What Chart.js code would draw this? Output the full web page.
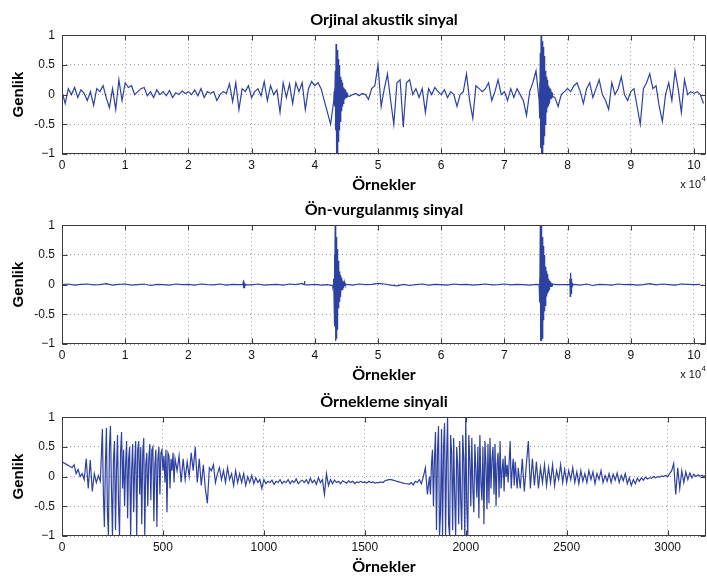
<!DOCTYPE html>
<html lang="tr">
<head>
<meta charset="utf-8">
<title>Sinyaller</title>
<script src="https://cdn.jsdelivr.net/npm/chart.js@4.4.1/dist/chart.umd.min.js"></script>
<style>
    html, body { margin: 0; padding: 0; background: #fff; }
    #sayfa { position: relative; width: 707px; height: 579px; overflow: hidden; }
    .grafik { position: absolute; left: 0; width: 707px; height: 197px; }
</style>
</head>
<body>
<div id="sayfa">
    <div class="grafik" style="top:0px"><canvas id="g_orjinal"></canvas></div>
    <div class="grafik" style="top:190px"><canvas id="g_onvurgu"></canvas></div>
    <div class="grafik" style="top:382px"><canvas id="g_ornekleme"></canvas></div>
</div>
<script>
// yazilar
var basliklar = ['Orjinal akustik sinyal', 'Ön-vurgulanmış sinyal', 'Örnekleme sinyali'];
var eksenX = 'Örnekler';
var eksenY = 'Genlik';

// eksen tikleri
var genlikTikleri = [-1, -0.5, 0, 0.5, 1];
var ornekTikleri = [0, 10000, 20000, 30000, 40000, 50000, 60000, 70000, 80000, 90000, 100000];
var ornekTikleri3 = [0, 500, 1000, 1500, 2000, 2500, 3000];
var ornekMax = 101900;
var ornekMax3 = 3190;

// orjinal sinyal (her 500 ornekte bir deger)
var orjinalAdim = 500;
var orjinal = [
    0.05,-0.15,0.1,0.0,0.12,-0.05,0.08,0.02,-0.1,0.05,-0.18,0.1,0.05,0.15,-0.05,-0.22,0.1,-0.25,0.25,-0.1,
    0.2,0.12,0.15,0.0,0.05,0.1,0.12,-0.02,0.05,-0.05,0.08,0.0,0.05,-0.02,0.07,-0.05,0.03,0.0,0.06,0.02,
    0.05,0.0,0.08,-0.02,0.1,-0.05,0.05,0.02,0.05,-0.1,0.0,0.05,0.02,0.18,-0.12,0.2,-0.25,0.1,0.05,0.15,
    -0.05,0.05,0.1,-0.02,0.22,-0.1,0.15,0.0,0.08,-0.3,0.2,-0.05,0.18,-0.15,0.2,0.05,0.2,-0.25,0.1,0.22,
    0.15,0.2,0.1,-0.1,-0.3,-0.5,0,0,0.05,0,0.02,-0.03,0,0.02,-0.02,0.02,0,-0.08,0.1,0.15,
    0.5,-0.2,0.1,0.35,-0.1,-0.5,0.2,0.25,-0.55,0.2,0.25,0.0,0.1,-0.05,0.1,-0.3,0.1,0.0,0.12,0.05,
    0.0,0.08,-0.05,0.05,0.0,-0.2,0.0,0.05,0.35,-0.1,-0.4,0.15,0.1,0.05,0.1,0.2,-0.1,0.05,0.25,0.0,
    0.05,-0.1,0.1,-0.05,0.1,0.0,-0.1,-0.35,0.05,0.2,0.4,-0.1,0,0,0,0,-0.05,-0.2,0.0,0.05,
    0.1,0.05,0.15,0.2,0.05,-0.15,0.1,0.2,-0.05,0.1,0.25,0.0,-0.1,-0.25,0.2,0.0,0.1,0.3,0.0,-0.1,
    0.05,0.1,-0.2,-0.5,0.1,0.2,0.35,0.1,0.15,-0.2,-0.45,0.0,0.2,-0.1,0.4,0.1,-0.3,0.25,0.0,0.05,
    0.02,0.05,0.0,-0.15
];
// orjinal sinyaldeki patlamalar (her 60 ornekte bir deger)
var orjinalPatlamaAdim = 60;
var orjinalPatlamaBas = [43000, 75500];
var orjinalPatlamalar = [
    [-0.1,0.05,0.1,-0.2,0.4,-0.6,0.85,-1.0,0.8,-1.0,0.75,-0.95,0.6,-0.8,0.5,-0.6,0.4,-0.45,0.3,-0.35,
     0.25,-0.28,0.2,-0.2,0.16,-0.15,0.12,-0.12,0.1,-0.08,0.08,-0.06,0.06,-0.05,0.04,-0.03,0.03,-0.02],
    [-0.1,0.2,-0.4,0.7,-0.9,1.0,-1.0,1.0,-1.0,0.9,-1.0,0.8,-0.85,0.65,-0.7,0.5,-0.5,0.4,-0.4,0.3,
     -0.3,0.25,-0.22,0.2,-0.18,0.15,-0.14,0.12,-0.1,0.1,-0.08,0.07,-0.06,0.05,-0.04,0.03,-0.03]
];

// on-vurgulanmis sinyal (her 1000 ornekte bir deger)
var onVurguAdim = 1000;
var onVurgu = [
    0.0,0.01,-0.01,0.005,0.01,-0.005,0.0,0.015,-0.01,0.005,
    0.01,-0.01,0.0,0.01,-0.015,0.005,0.0,-0.01,0.01,0.0,
    0.005,-0.01,0.01,0.0,-0.005,0.01,-0.01,0.005,0.0,0.01,
    -0.005,0.01,-0.01,0.0,0.005,-0.01,0.01,0.0,0.02,-0.005,
    0.005,-0.01,0.0,-0.02,0.0,0.005,-0.01,0.01,0.0,0.005,
    0.02,0.01,-0.01,-0.02,0.005,-0.015,0.0,0.01,-0.01,0.005,
    0.0,-0.01,0.01,0.0,0.005,-0.01,0.0,0.01,-0.005,0.0,
    0.01,-0.005,0.005,0.0,-0.01,0.005,0.0,0.0,0.0,0.0,
    0.0,0.005,-0.01,0.01,-0.015,0.005,0.0,-0.01,0.01,0.0,
    0.005,-0.01,0.0,0.015,-0.005,0.01,0.0,-0.01,0.01,0.005,
    0.0,0.005
];
var onVurguPatlamaAdim = 60;
var onVurguPatlamaBas = [28600, 38300, 42800, 75500, 80300];
var onVurguPatlamalar = [
    [0.0,0.03,-0.06,0.07,-0.05,0.03,-0.01,0.0],
    [0.0,0.06,0.0],
    [-0.02,-0.03,0.0,0.1,-0.2,0.5,-0.7,1.0,-0.95,0.95,-0.9,0.8,-0.75,0.6,-0.55,0.4,-0.4,0.3,-0.28,0.22,
     -0.2,0.16,-0.15,0.12,-0.1,0.09,-0.08,0.07,-0.05,0.05,-0.04,0.03,-0.02,0.02,-0.01,0.01],
    [0.0,0.1,-0.3,1.0,-0.95,1.0,-0.95,0.9,-0.9,0.8,-0.75,0.65,-0.6,0.5,-0.45,0.4,-0.35,0.3,-0.27,0.23,
     -0.2,0.18,-0.15,0.13,-0.11,0.1,-0.08,0.07,-0.06,0.05,-0.04,0.04,-0.03,0.02,-0.02,0.01],
    [0.0,0.1,-0.2,0.2,-0.15,0.1,-0.05,0.02,0.0]
];

// ornekleme sinyali (her 10 ornekte bir deger)
var orneklemeAdim = 10;
var ornekleme = [
    0.25,0.23,0.21,0.19,0.17,0.15,0.2,0.05,0.12,0.0,
    0.05,-0.05,0.3,-0.2,0.28,-0.25,0.05,-0.1,0.02,-0.08,
    0.8,-0.85,0.82,-1.0,0.85,-1.0,0.6,-0.9,0.7,-1.0,
    0.45,-0.5,0.6,-0.7,0.5,-1.0,0.55,-0.6,0.6,-1.0,
    0.6,-0.3,0.5,-0.8,0.65,-1.0,0.4,-0.5,0.55,-0.4,
    0.5,-0.75,0.45,-0.85,0.5,-0.3,0.45,0.1,0.35,-0.1,
    0.3,-0.05,0.25,0.0,0.4,0.1,0.5,-0.1,0.3,-0.15,
    0.2,-0.2,-0.45,0.15,0.1,0.2,-0.1,0.05,0.15,-0.05,
    0.1,-0.1,0.15,-0.05,0.05,-0.15,0.1,-0.1,0.05,-0.1,
    0.05,-0.15,0.0,-0.1,0.02,-0.12,-0.02,-0.1,-0.05,-0.2,
    -0.05,-0.12,-0.08,-0.1,-0.06,-0.13,-0.08,-0.1,-0.05,-0.12,
    -0.08,-0.1,-0.05,-0.12,-0.07,-0.1,-0.04,-0.12,-0.08,-0.06,
    -0.1,-0.05,-0.12,-0.03,-0.1,-0.06,-0.13,-0.02,-0.1,-0.05,
    -0.3,0.05,-0.15,-0.05,-0.12,-0.06,-0.1,-0.08,-0.12,-0.07,
    -0.09,-0.11,-0.07,-0.1,-0.08,-0.12,-0.09,-0.1,-0.08,-0.1,
    -0.09,-0.11,-0.08,-0.1,-0.09,-0.11,-0.1,-0.1,-0.09,-0.1,
    -0.07,-0.06,-0.05,-0.05,-0.06,-0.07,-0.08,-0.09,-0.1,-0.11,
    -0.12,-0.12,-0.13,-0.1,-0.14,-0.08,-0.1,-0.05,-0.12,0.0,
    0.15,-0.3,0.45,-0.5,0.75,-0.9,0.85,-1.0,0.8,-1.0,
    1.0,-1.0,0.7,-0.9,0.65,-1.0,0.5,-0.8,0.6,-0.9,
    1.0,-1.0,0.7,-0.5,0.65,-0.6,0.55,-0.35,0.5,-0.7,
    0.7,-0.4,0.5,-0.8,0.6,-0.55,0.55,-0.45,0.65,-0.2,
    0.5,-0.3,0.55,-0.5,0.4,-0.35,0.6,-0.2,0.3,-0.25,
    0.2,0.6,-0.2,0.3,-0.15,0.25,-0.2,0.15,-0.1,0.2,
    -0.15,0.15,-0.1,0.2,-0.15,0.1,-0.05,0.2,-0.1,0.12,
    -0.1,0.1,-0.05,0.15,-0.1,0.08,-0.12,0.1,-0.08,0.05,
    -0.1,0.1,-0.05,0.08,-0.12,0.05,-0.05,0.1,-0.1,0.02,
    -0.08,0.05,-0.1,0.04,-0.06,0.06,-0.1,0.02,-0.07,0.05,
    -0.12,-0.02,-0.15,-0.05,-0.12,-0.03,-0.08,-0.02,-0.06,-0.01,
    -0.04,-0.02,-0.03,0.0,-0.02,0.0,-0.01,0.01,0.0,0.02,
    0.0,0.05,0.1,0.22,-0.3,0.15,-0.2,0.1,-0.1,0.08,
    -0.05,0.06,-0.02,0.04,0.0,0.03,0.01,0.02,0.0,0.03
];
// yogun bolgeler (her 5 ornekte bir deger)
var orneklemeYogunAdim = 5;
var orneklemeYogunBas = [200, 1820];
var orneklemeYogun = [
    [0.8,-0.3,-0.85,0.2,0.82,-0.6,-1.0,0.5,0.85,-0.2,-1.0,0.3,0.6,-0.9,0.1,0.7,-0.5,-1.0,0.4,0.75,
     -0.2,0.45,-0.5,0.2,0.6,-0.7,0.3,0.5,-1.0,0.1,0.55,-0.6,0.2,0.6,-1.0,0.45,0.6,-0.3,0.5,-0.8,
     0.4,0.65,-1.0,0.2,0.4,-0.5,0.3,0.55,-0.4,0.45,0.5,-0.75,0.2,0.45,-0.85,0.3,0.5,-0.3,0.4,0.45,
     0.1,0.35,-0.1,0.45,-0.6,0.4,0.35,-0.2,0.3,0.1,0.4,-0.1,0.3],
    [0.0,-0.3,0.2,0.45,-0.5,0.3,0.75,-0.9,0.4,0.85,-1.0,-0.6,0.8,-1.0,0.5,0.9,-1.0,0.3,1.0,-0.8,
     -1.0,0.7,0.4,-0.9,0.65,-0.3,-1.0,0.5,0.2,-0.8,0.6,-0.4,-0.9,0.7,0.3,-1.0,1.0,-0.5,-1.0,0.7,
     0.3,-0.5,0.65,-0.2,-0.6,0.55,0.1,-0.35,0.5,-0.7,0.7,-0.1,-0.4,0.5,-0.8,0.6,0.2,-0.55,0.55,-0.45,
     0.65,-0.2,0.3,0.5,-0.3,0.55,-0.5,0.2,0.4,-0.35,0.6,-0.2,0.1,0.3,-0.25,0.35,0.0,0.2,-0.1,0.25,
     0.6,-0.2,0.1,0.3,-0.15,0.25,0.0,-0.2,0.15]
];

// ana dizi + patlamalar -> {x, y} noktalari
function noktalar(ana, adim, basList, patAdim, patlamalar) {
    var araliklar = [];
    for (let i = 0; i < basList.length; i++) {
        araliklar.push([basList[i], basList[i] + (patlamalar[i].length - 1) * patAdim]);
    }
    var pts = [];
    for (let i = 0; i < ana.length; i++) {
        var x = i * adim;
        var icerde = araliklar.some(function (a) { return x >= a[0] && x <= a[1]; });
        if (!icerde) pts.push({x: x, y: ana[i]});
    }
    for (let i = 0; i < basList.length; i++) {
        for (let j = 0; j < patlamalar[i].length; j++) {
            pts.push({x: basList[i] + j * patAdim, y: patlamalar[i][j]});
        }
    }
    pts.sort(function (a, b) { return a.x - b.x; });
    return pts;
}

// kutu, ice dogru tik isaretleri ve "x 10^4"
var cerceve = {
    id: 'cerceve',
    afterDraw: function (chart, args, opts) {
        var c = chart.ctx, a = chart.chartArea;
        var l = Math.round(a.left) + 0.5, r = Math.round(a.right) - 0.5;
        var t = Math.round(a.top) + 0.5, b = Math.round(a.bottom) - 0.5;
        c.save();
        c.strokeStyle = '#3c3c3c';
        c.lineWidth = 1;
        c.strokeRect(l, t, r - l, b - t);
        c.beginPath();
        chart.scales.x.ticks.forEach(function (tk) {
            var px = Math.round(chart.scales.x.getPixelForValue(tk.value)) + 0.5;
            c.moveTo(px, b); c.lineTo(px, b - 5);
            c.moveTo(px, t); c.lineTo(px, t + 5);
        });
        chart.scales.y.ticks.forEach(function (tk) {
            var py = Math.round(chart.scales.y.getPixelForValue(tk.value)) + 0.5;
            c.moveTo(l, py); c.lineTo(l + 5, py);
            c.moveTo(r, py); c.lineTo(r - 5, py);
        });
        c.stroke();
        if (opts.us) {
            c.fillStyle = '#111';
            c.textBaseline = 'alphabetic';
            c.font = '11px "Liberation Sans"';
            c.textAlign = 'right';
            c.fillText('x 10', a.right - 5, a.bottom + 34);
            c.font = '8px "Liberation Sans"';
            c.textAlign = 'left';
            c.fillText('4', a.right - 4.5, a.bottom + 27);
        }
        c.restore();
    }
};

function grafik(id, baslik, veri, xMax, xTikleri, xBolen, us) {
    var ctx = document.getElementById(id).getContext('2d');
    return new Chart(ctx, {
        type: 'line',
        data: {
            datasets: [{
                data: veri,
                borderColor: '#2d41a0',
                borderWidth: 1.2,
                pointRadius: 0,
                tension: 0,
                fill: false
            }]
        },
        options: {
            responsive: true,
            maintainAspectRatio: false,
            animation: false,
            events: [],
            parsing: false,
            normalized: true,
            layout: { padding: { left: 0, right: 1, top: 0, bottom: 0 } },
            plugins: {
                legend: { display: false },
                tooltip: { enabled: false },
                title: {
                    display: true,
                    text: baslik,
                    fullSize: false,
                    color: '#000',
                    font: { family: 'Lato', size: 16, weight: 'bold', lineHeight: 1.2 },
                    padding: { top: 10, bottom: 6 }
                },
                cerceve: { us: us }
            },
            scales: {
                x: {
                    type: 'linear',
                    min: 0,
                    max: xMax,
                    afterBuildTicks: function (s) { s.ticks = xTikleri.map(function (v) { return {value: v}; }); },
                    afterFit: function (s) { s.height = 43; },
                    grid: { color: '#9a9a9a', lineWidth: 1, drawTicks: false },
                    border: { display: false, dash: [1, 3] },
                    ticks: {
                        autoSkip: false,
                        maxRotation: 0,
                        padding: 4,
                        color: '#111',
                        font: { family: 'Liberation Sans', size: 12 },
                        callback: function (v) { return String(v / xBolen); }
                    },
                    title: {
                        display: true,
                        text: eksenX,
                        color: '#000',
                        font: { family: 'Lato', size: 16, weight: 'bold', lineHeight: 1.2 },
                        padding: { top: 0, bottom: 3 }
                    }
                },
                y: {
                    min: -1,
                    max: 1,
                    afterBuildTicks: function (s) { s.ticks = genlikTikleri.map(function (v) { return {value: v}; }); },
                    afterFit: function (s) { s.width = 62; },
                    grid: { color: '#9a9a9a', lineWidth: 1, drawTicks: false },
                    border: { display: false, dash: [1, 3] },
                    ticks: {
                        padding: 7,
                        color: '#111',
                        font: { family: 'Liberation Sans', size: 12 },
                        callback: function (v) { return v === -1 ? '\u22121' : String(v); }
                    },
                    title: {
                        display: true,
                        text: eksenY,
                        color: '#000',
                        font: { family: 'Liberation Sans', size: 15, weight: 'bold', lineHeight: 1.2 },
                        padding: { top: 10, bottom: 0 }
                    }
                }
            }
        },
        plugins: [cerceve]
    });
}

grafik('g_orjinal', basliklar[0],
    noktalar(orjinal, orjinalAdim, orjinalPatlamaBas, orjinalPatlamaAdim, orjinalPatlamalar),
    ornekMax, ornekTikleri, 10000, true);
grafik('g_onvurgu', basliklar[1],
    noktalar(onVurgu, onVurguAdim, onVurguPatlamaBas, onVurguPatlamaAdim, onVurguPatlamalar),
    ornekMax, ornekTikleri, 10000, true);
grafik('g_ornekleme', basliklar[2],
    noktalar(ornekleme, orneklemeAdim, orneklemeYogunBas, orneklemeYogunAdim, orneklemeYogun),
    ornekMax3, ornekTikleri3, 1, false);
</script>
</body>
</html>
